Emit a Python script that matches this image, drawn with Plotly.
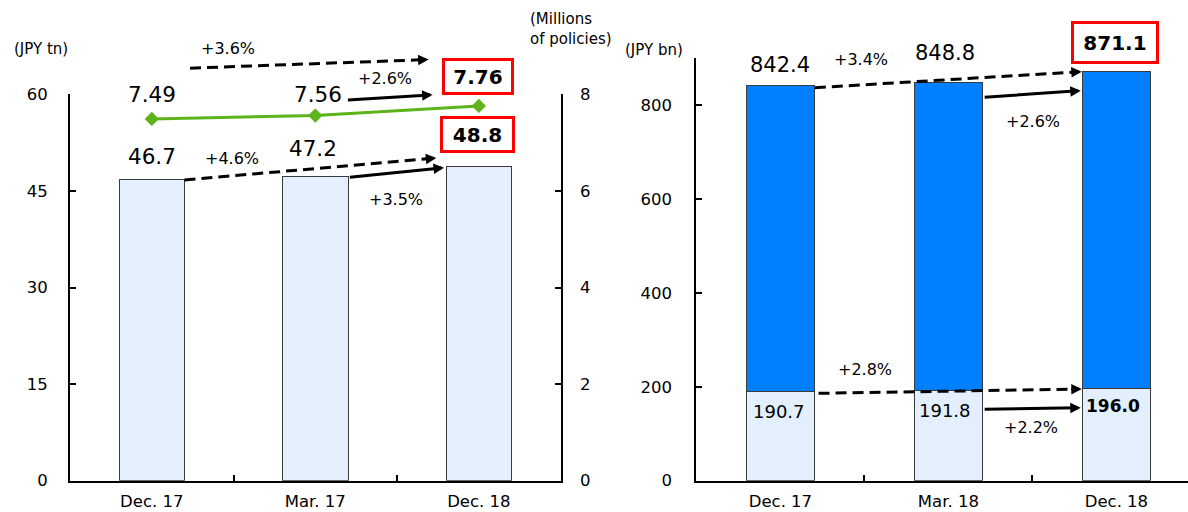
import math
import plotly.graph_objects as go

# ---- data ---------------------------------------------------------------
periods_left = ["Dec. 17", "Mar. 17", "Dec. 18"]
assets_tn = [46.7, 47.2, 48.8]          # bars, JPY tn (left axis)
policies_mn = [7.49, 7.56, 7.76]        # line, millions of policies (right axis)

periods_right = ["Dec. 17", "Mar. 18", "Dec. 18"]
total_bn = [842.4, 848.8, 871.1]        # stacked bar totals, JPY bn
lower_bn = [190.7, 191.8, 196.0]        # lower segment, JPY bn
upper_bn = [round(t - b, 1) for t, b in zip(total_bn, lower_bn)]

growth_left = ["+3.6%", "+2.6%", "+4.6%", "+3.5%"]
growth_right = ["+3.4%", "+2.6%", "+2.8%", "+2.2%"]

left_ticks = [0, 15, 30, 45, 60]
policy_ticks = [0, 2, 4, 6, 8]
right_ticks = [0, 200, 400, 600, 800]

# ---- geometry -----------------------------------------------------------
W, H = 1188, 512
XD1 = [70 / W, 560.6 / W]
XR1 = [-0.5, 2.5]
YD1 = [1 - 480.7 / H, 1 - 94.3 / H]
YR1 = [0, 60]
YR2 = [0, 8]
XD2 = [696.4 / W, 1.0]
XR2 = [-0.5, -0.5 + (W - 696.4) / 168.0]
YD3 = [1 - 480.7 / H, 1 - 58.3 / H]
YR3 = [0, 900]

FONT = "DejaVu Sans"
LIGHT = "#e3effc"
BLUE = "#0080ff"
GREEN = "#5cb31c"
RED = "#ff0000"
EDGE = "#3a3a3a"


def to_px(x, y, xd, xr, yd, yr):
    px = W * (xd[0] + (x - xr[0]) / (xr[1] - xr[0]) * (xd[1] - xd[0]))
    py = H * (1 - (yd[0] + (y - yr[0]) / (yr[1] - yr[0]) * (yd[1] - yd[0])))
    return px, py


AX = {
    "y1": (XD1, XR1, YD1, YR1),
    "y2": (XD1, XR1, YD1, YR2),
    "y3": (XD2, XR2, YD3, YR3),
}

shapes = []
annotations = []


def arrow(axis, x0, y0, x1, y1, dashed):
    p0 = to_px(x0, y0, *AX[axis])
    p1 = to_px(x1, y1, *AX[axis])
    dx, dy = p1[0] - p0[0], p1[1] - p0[1]
    length = math.hypot(dx, dy)
    ux, uy = dx / length, dy / length
    if dashed:
        head = 9
        end = (p1[0] - ux * head, p1[1] - uy * head)
        shapes.append(dict(
            type="line", xref="paper", yref="paper",
            x0=p0[0] / W, y0=1 - p0[1] / H, x1=end[0] / W, y1=1 - end[1] / H,
            line=dict(color="black", width=3, dash="11px,6px"),
        ))
        tail = (-ux * (head + 3), -uy * (head + 3))
    else:
        tail = (p0[0] - p1[0], p0[1] - p1[1])
    annotations.append(dict(
        xref="paper", yref="paper", x=p1[0] / W, y=1 - p1[1] / H,
        ax=tail[0], ay=tail[1], axref="pixel", ayref="pixel",
        text="", showarrow=True, arrowhead=2, arrowsize=0.7,
        arrowwidth=3, arrowcolor="black", standoff=0, startstandoff=0,
    ))


def label(axis, x, y, text, size, dy=0, dx=0, bold=False, box=None):
    # placed in paper space so labels above an axis range still show
    px, py = to_px(x, y, *AX[axis])
    a = dict(
        xref="paper", yref="paper", x=(px + dx) / W, y=1 - (py - dy) / H,
        text=f"<b>{text}</b>" if bold else text, showarrow=False,
        font=dict(family=FONT, size=size, color="black"),
        xanchor="center", yanchor="middle",
    )
    if box:
        a.update(bordercolor=RED, borderwidth=3, bgcolor="white",
                 borderpad=3, width=box[0], height=box[1])
    annotations.append(a)


# ---- traces -------------------------------------------------------------
fig = go.Figure()
fig.add_trace(go.Bar(
    x=periods_left, y=assets_tn, xaxis="x", yaxis="y", width=0.4,
    marker=dict(color=LIGHT, line=dict(color=EDGE, width=1)),
))
fig.add_trace(go.Scatter(
    x=periods_left, y=policies_mn, xaxis="x", yaxis="y2", mode="lines+markers",
    line=dict(color=GREEN, width=3),
    marker=dict(symbol="diamond", size=11, color=GREEN),
))
fig.add_trace(go.Bar(
    x=periods_right, y=lower_bn, xaxis="x2", yaxis="y3", width=0.4,
    marker=dict(color=LIGHT, line=dict(color=EDGE, width=1)),
))
fig.add_trace(go.Bar(
    x=periods_right, y=upper_bn, xaxis="x2", yaxis="y3", width=0.4,
    marker=dict(color=BLUE, line=dict(color=EDGE, width=1)),
))

# ---- value labels -------------------------------------------------------
label("y2", 0, policies_mn[0], f"{policies_mn[0]:.2f}", 21.5, dy=24)
label("y2", 1, policies_mn[1], f"{policies_mn[1]:.2f}", 21.5, dy=21, dx=3)
label("y2", 2, policies_mn[2], f"{policies_mn[2]:.2f}", 20, dy=29, dx=-1, bold=True, box=(60, 25))
label("y1", 0, assets_tn[0], f"{assets_tn[0]:.1f}", 21.5, dy=23)
label("y1", 1, assets_tn[1], f"{assets_tn[1]:.1f}", 21.5, dy=28, dx=-2)
label("y1", 2, assets_tn[2], f"{assets_tn[2]:.1f}", 20, dy=31.5, dx=-1, bold=True, box=(63, 25))

label("y3", 0, total_bn[0], f"{total_bn[0]:.1f}", 21, dy=20)
label("y3", 1, total_bn[1], f"{total_bn[1]:.1f}", 21, dy=29.5, dx=-3)
label("y3", 2, total_bn[2], f"{total_bn[2]:.1f}", 20, dy=29, dx=-1.5, bold=True, box=(76, 31))
label("y3", 0, lower_bn[0], f"{lower_bn[0]:.1f}", 18, dy=-20.5, dx=-1.5)
label("y3", 1, lower_bn[1], f"{lower_bn[1]:.1f}", 18, dy=-20, dx=-3)
label("y3", 2, lower_bn[2], f"{lower_bn[2]:.1f}", 17, dy=-17, dx=-3.5, bold=True)

# ---- growth arrows ------------------------------------------------------
arrow("y2", 0.234, 8.54, 1.693, 8.72, dashed=True)
arrow("y2", 1.190, 7.88, 1.717, 7.99, dashed=False)
arrow("y1", 0.200, 46.7, 1.740, 50.1, dashed=True)
arrow("y1", 1.202, 47.1, 1.787, 48.6, dashed=False)
label("y2", 0.466, 8.94, growth_left[0], 16)
label("y2", 1.424, 8.32, growth_left[1], 16)
label("y1", 0.488, 50.1, growth_left[2], 16)
label("y1", 1.494, 43.6, growth_left[3], 16)

arrow("y3", 0.205, 837.4, 1.794, 871.5, dashed=True)
arrow("y3", 1.207, 816.9, 1.788, 831.0, dashed=False)
arrow("y3", 0.227, 186.2, 1.794, 195.4, dashed=True)
arrow("y3", 1.207, 152.1, 1.788, 155.5, dashed=False)
label("y3", 0.477, 896.4, growth_right[0], 16)
label("y3", 1.504, 764.9, growth_right[1], 16)
label("y3", 0.504, 235.9, growth_right[2], 16)
label("y3", 1.492, 113.8, growth_right[3], 16)

# ---- unit captions ------------------------------------------------------
for txt, px, py, anchor in [
    ("(JPY tn)", 41, 49, "center"),
    ("(Millions<br>of policies)", 528, 29, "left"),
    ("(JPY bn)", 653.5, 50, "center"),
]:
    annotations.append(dict(
        xref="paper", yref="paper", x=px / W, y=1 - py / H, text=txt,
        showarrow=False, xanchor=anchor, yanchor="middle", align="left",
        font=dict(family=FONT, size=15, color="black"),
    ))

# ---- axes ---------------------------------------------------------------
tick_font = dict(family=FONT, size=16.5, color="black")
common_y = dict(showgrid=False, zeroline=False, showline=True, linecolor="black",
                linewidth=2, ticks="inside", ticklen=6, tickwidth=1.5,
                tickcolor="black", tickfont=tick_font, automargin=False)
common_x = dict(type="category", showgrid=False, zeroline=False, showline=True,
                linecolor="black", linewidth=2, ticks="inside", ticklen=6,
                tickwidth=1.5, tickcolor="black", tickson="boundaries",
                tickfont=tick_font, ticklabelstandoff=4, automargin=False)

fig.update_layout(
    width=W, height=H, margin=dict(l=0, r=0, t=0, b=0, autoexpand=False),
    paper_bgcolor="white", plot_bgcolor="white",
    showlegend=False, barmode="stack", hovermode=False,
    xaxis=dict(domain=XD1, range=XR1, anchor="y", **common_x),
    yaxis=dict(domain=YD1, range=YR1, anchor="x", tickvals=left_ticks,
               ticklabelstandoff=17, **common_y),
    yaxis2=dict(range=YR2, overlaying="y", side="right", anchor="x",
                tickvals=policy_ticks, ticklabelstandoff=14, **common_y),
    xaxis2=dict(domain=XD2, range=XR2, anchor="y3", **common_x),
    yaxis3=dict(domain=YD3, range=YR3, anchor="x2", tickvals=right_ticks,
                ticklabelstandoff=19, **common_y),
    shapes=shapes,
    annotations=annotations,
)

fig.write_html("out.html", config={"displayModeBar": False})
